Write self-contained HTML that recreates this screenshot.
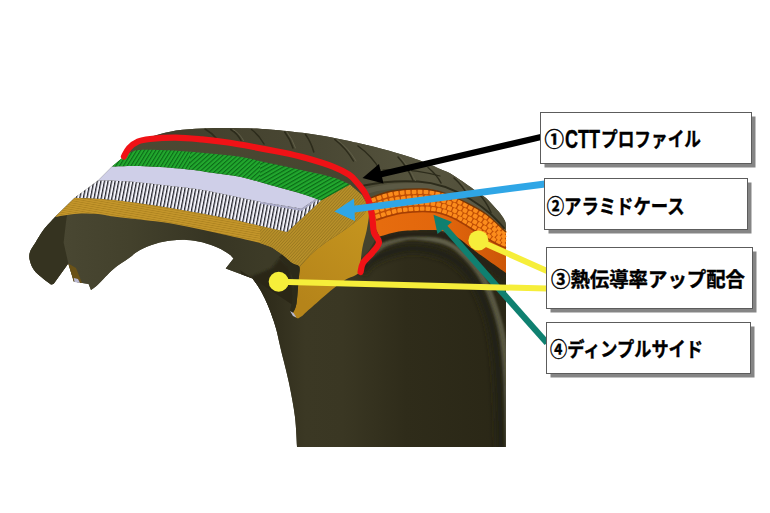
<!DOCTYPE html>
<html lang="ja">
<head>
<meta charset="utf-8">
<title>タイヤ構造図</title>
<style>
html,body{margin:0;padding:0;background:#fff;}
body{width:770px;height:513px;overflow:hidden;position:relative;font-family:"Liberation Sans","Noto Sans CJK JP",sans-serif;}
svg{position:absolute;left:0;top:0;display:block;}
.lbl{font-family:"Liberation Sans","Noto Sans CJK JP",sans-serif;font-weight:bold;font-size:20px;fill:#000;stroke:#000;stroke-width:0.4px;}
</style>
</head>
<body>
<svg width="770" height="513" viewBox="0 0 770 513">
<defs>
  <linearGradient id="gTire" gradientUnits="userSpaceOnUse" x1="100" y1="130" x2="500" y2="450">
    <stop offset="0" stop-color="#4d4a34"/>
    <stop offset="0.45" stop-color="#46442f"/>
    <stop offset="1" stop-color="#3a3824"/>
  </linearGradient>
  <linearGradient id="gInner" gradientUnits="userSpaceOnUse" x1="255" y1="0" x2="506" y2="0">
    <stop offset="0" stop-color="#2b2818"/>
    <stop offset="0.2" stop-color="#3b3824"/>
    <stop offset="0.35" stop-color="#3a3723"/>
    <stop offset="0.6" stop-color="#2f2c1a"/>
    <stop offset="1" stop-color="#2a2716"/>
  </linearGradient>
  <filter id="blur1" x="-20%" y="-20%" width="140%" height="140%"><feGaussianBlur stdDeviation="1.2"/></filter>
  <filter id="blur2" x="-20%" y="-20%" width="140%" height="140%"><feGaussianBlur stdDeviation="2.2"/></filter>
  <filter id="blur3" x="-20%" y="-20%" width="140%" height="140%"><feGaussianBlur stdDeviation="3"/></filter>
  <pattern id="pGreenA" width="8" height="3.2" patternUnits="userSpaceOnUse" patternTransform="rotate(-58)">
    <rect width="8" height="3.2" fill="#22a82e"/><rect width="8" height="1.1" fill="#0b6a17"/>
  </pattern>
  <pattern id="pGreenB" width="8" height="3.3" patternUnits="userSpaceOnUse" patternTransform="rotate(-42)">
    <rect width="8" height="3.3" fill="#22a82e"/><rect width="8" height="1.1" fill="#0b6a17"/>
  </pattern>
  <pattern id="pGreenC" width="8" height="3.4" patternUnits="userSpaceOnUse" patternTransform="rotate(-30)">
    <rect width="8" height="3.4" fill="#22a82e"/><rect width="8" height="1.2" fill="#0b6a17"/>
  </pattern>
  <pattern id="pHatch" width="3.5" height="8" patternUnits="userSpaceOnUse" patternTransform="rotate(11)">
    <rect width="3.5" height="8" fill="#f4f4fb"/><rect width="1.3" height="8" fill="#22222a"/>
  </pattern>
  <pattern id="pGold" width="6" height="2.2" patternUnits="userSpaceOnUse" patternTransform="rotate(10)">
    <rect width="6" height="2.2" fill="#c4962b"/><rect width="6" height="0.8" fill="#ad8320"/>
  </pattern>
  <pattern id="pGold2" width="6" height="2.2" patternUnits="userSpaceOnUse" patternTransform="rotate(-48)">
    <rect width="6" height="2.2" fill="#b89029"/><rect width="6" height="0.8" fill="#9a7820"/>
  </pattern>
  <linearGradient id="gGoldS" gradientUnits="userSpaceOnUse" x1="300" y1="300" x2="370" y2="210">
    <stop offset="0" stop-color="#b5841a"/>
    <stop offset="1" stop-color="#c6961f"/>
  </linearGradient>
  <linearGradient id="gTread" gradientUnits="userSpaceOnUse" x1="150" y1="0" x2="500" y2="0">
    <stop offset="0" stop-color="#403e2b"/>
    <stop offset="0.5" stop-color="#4a4834"/>
    <stop offset="0.8" stop-color="#57553f"/>
    <stop offset="1" stop-color="#4e4c37"/>
  </linearGradient>
  <linearGradient id="gOr" gradientUnits="userSpaceOnUse" x1="380" y1="0" x2="506" y2="0">
    <stop offset="0" stop-color="#e66c0e"/>
    <stop offset="0.5" stop-color="#e2660c"/>
    <stop offset="1" stop-color="#cc5608"/>
  </linearGradient>
  <linearGradient id="gLiner" gradientUnits="userSpaceOnUse" x1="40" y1="0" x2="266" y2="0">
    <stop offset="0" stop-color="#4b4934"/>
    <stop offset="0.4" stop-color="#43412c"/>
    <stop offset="0.75" stop-color="#373523"/>
    <stop offset="1" stop-color="#3d3b27"/>
  </linearGradient>
  <clipPath id="cGreen"><path d="M124.0,156.5 C125.2,155.8 128.5,153.4 131.0,152.3 C133.5,151.2 134.2,150.4 139.0,150.0 C143.8,149.6 153.2,149.8 160.0,150.0 C166.8,150.2 171.7,150.4 180.0,151.0 C188.3,151.6 200.0,152.5 210.0,153.5 C220.0,154.5 229.8,155.1 240.0,156.8 C250.2,158.5 260.6,161.3 271.0,163.5 C281.4,165.7 291.9,167.9 302.3,170.2 C312.7,172.5 325.6,175.1 333.5,177.5 C341.4,179.9 347.2,183.3 349.9,184.5 L321.0,200.5 L321.0,200.5 C317.9,199.4 310.6,196.4 302.3,193.9 C294.0,191.4 281.4,188.2 271.0,185.3 C260.6,182.5 250.2,178.9 240.0,176.8 C229.8,174.7 220.0,173.9 210.0,172.5 C200.0,171.1 191.7,169.7 180.0,168.6 C168.3,167.5 151.3,166.3 140.0,166.0 C128.7,165.7 116.7,166.4 112.0,166.5 L124.0,156.5 Z"/></clipPath>
  <clipPath id="cBody"><path d="M124.0,156.5 C124.8,154.9 126.7,149.7 129.0,147.0 C131.3,144.3 134.5,142.2 138.0,140.5 C141.5,138.8 148.0,137.6 150.0,137.0 L150.0,137.0 C154.3,135.9 167.3,132.0 176.0,130.6 C184.7,129.2 193.3,128.9 202.0,128.5 C210.7,128.1 219.3,128.0 228.0,128.0 C236.7,128.0 246.0,128.2 254.0,128.5 C262.0,128.8 267.3,129.2 276.0,130.0 C284.7,130.8 296.7,132.1 306.0,133.3 C315.3,134.6 323.0,135.8 332.0,137.5 C341.0,139.2 352.8,141.9 360.0,143.5 C367.2,145.1 369.3,145.6 375.0,147.0 C380.7,148.4 387.7,150.4 394.0,152.2 C400.3,154.0 406.7,155.8 413.0,158.0 C419.3,160.2 427.5,163.7 432.0,165.5 C436.5,167.3 437.0,167.7 440.0,169.0 C443.0,170.3 446.8,171.5 450.0,173.3 C453.2,175.1 456.3,177.5 459.5,179.6 C462.7,181.7 466.2,184.1 469.0,186.0 C471.8,187.9 473.2,189.0 476.0,191.0 C478.8,193.0 483.1,195.5 486.0,198.0 C488.9,200.5 491.2,203.4 493.6,206.0 C496.0,208.6 498.5,211.2 500.4,213.7 C502.3,216.2 504.1,218.9 505.0,221.0 C505.9,223.1 505.8,225.2 506.0,226.0 L506.0,447.0 L297.0,447.0 L297.0,447.0 C296.7,442.0 296.3,427.7 295.0,417.0 C293.7,406.3 291.3,394.2 289.0,383.0 C286.7,371.8 283.2,359.3 281.0,350.0 C278.8,340.7 277.6,334.0 275.6,327.0 C273.6,320.0 271.4,314.0 269.0,308.0 C266.6,302.0 263.7,295.9 261.0,291.0 C258.3,286.1 254.0,280.6 252.6,278.5 L225.7,268.5 L233.5,258.6 L233.5,258.6 C232.7,257.8 231.4,255.7 228.8,253.9 C226.2,252.1 222.4,249.6 218.0,247.7 C213.6,245.8 207.5,243.5 202.3,242.2 C197.1,240.9 192.0,240.2 186.8,239.9 C181.6,239.6 176.4,239.9 171.2,240.6 C166.0,241.2 160.8,242.2 155.6,243.8 C150.4,245.4 144.4,247.6 140.0,250.0 C135.6,252.4 133.4,254.8 129.0,258.0 C124.6,261.2 118.7,264.6 113.5,269.0 C108.3,273.4 101.8,281.0 98.0,284.5 C94.2,288.0 92.2,289.1 91.0,290.0 L88.6,284.0 L82.3,283.0 L73.8,281.4 L68.3,263.5 L53.5,284.0 L51.0,284.5 L51.0,284.5 C48.4,282.4 39.1,275.9 35.6,272.0 C32.1,268.1 30.9,264.3 30.0,261.0 C29.1,257.7 29.1,255.1 30.0,252.0 C30.9,248.9 33.4,246.2 35.6,242.5 C37.8,238.8 40.2,234.2 43.4,230.0 C46.6,225.8 53.1,219.2 55.0,217.0 L74.5,198.0 L98.0,180.5 L112.0,166.5 Z"/></clipPath>
</defs>

<rect width="770" height="513" fill="#ffffff"/>

<!-- tire body -->
<path fill="url(#gTire)" d="M124.0,156.5 C124.8,154.9 126.7,149.7 129.0,147.0 C131.3,144.3 134.5,142.2 138.0,140.5 C141.5,138.8 148.0,137.6 150.0,137.0 L150.0,137.0 C154.3,135.9 167.3,132.0 176.0,130.6 C184.7,129.2 193.3,128.9 202.0,128.5 C210.7,128.1 219.3,128.0 228.0,128.0 C236.7,128.0 246.0,128.2 254.0,128.5 C262.0,128.8 267.3,129.2 276.0,130.0 C284.7,130.8 296.7,132.1 306.0,133.3 C315.3,134.6 323.0,135.8 332.0,137.5 C341.0,139.2 352.8,141.9 360.0,143.5 C367.2,145.1 369.3,145.6 375.0,147.0 C380.7,148.4 387.7,150.4 394.0,152.2 C400.3,154.0 406.7,155.8 413.0,158.0 C419.3,160.2 427.5,163.7 432.0,165.5 C436.5,167.3 437.0,167.7 440.0,169.0 C443.0,170.3 446.8,171.5 450.0,173.3 C453.2,175.1 456.3,177.5 459.5,179.6 C462.7,181.7 466.2,184.1 469.0,186.0 C471.8,187.9 473.2,189.0 476.0,191.0 C478.8,193.0 483.1,195.5 486.0,198.0 C488.9,200.5 491.2,203.4 493.6,206.0 C496.0,208.6 498.5,211.2 500.4,213.7 C502.3,216.2 504.1,218.9 505.0,221.0 C505.9,223.1 505.8,225.2 506.0,226.0 L506.0,447.0 L297.0,447.0 L297.0,447.0 C296.7,442.0 296.3,427.7 295.0,417.0 C293.7,406.3 291.3,394.2 289.0,383.0 C286.7,371.8 283.2,359.3 281.0,350.0 C278.8,340.7 277.6,334.0 275.6,327.0 C273.6,320.0 271.4,314.0 269.0,308.0 C266.6,302.0 263.7,295.9 261.0,291.0 C258.3,286.1 254.0,280.6 252.6,278.5 L225.7,268.5 L233.5,258.6 L233.5,258.6 C232.7,257.8 231.4,255.7 228.8,253.9 C226.2,252.1 222.4,249.6 218.0,247.7 C213.6,245.8 207.5,243.5 202.3,242.2 C197.1,240.9 192.0,240.2 186.8,239.9 C181.6,239.6 176.4,239.9 171.2,240.6 C166.0,241.2 160.8,242.2 155.6,243.8 C150.4,245.4 144.4,247.6 140.0,250.0 C135.6,252.4 133.4,254.8 129.0,258.0 C124.6,261.2 118.7,264.6 113.5,269.0 C108.3,273.4 101.8,281.0 98.0,284.5 C94.2,288.0 92.2,289.1 91.0,290.0 L88.6,284.0 L82.3,283.0 L73.8,281.4 L68.3,263.5 L53.5,284.0 L51.0,284.5 L51.0,284.5 C48.4,282.4 39.1,275.9 35.6,272.0 C32.1,268.1 30.9,264.3 30.0,261.0 C29.1,257.7 29.1,255.1 30.0,252.0 C30.9,248.9 33.4,246.2 35.6,242.5 C37.8,238.8 40.2,234.2 43.4,230.0 C46.6,225.8 53.1,219.2 55.0,217.0 L74.5,198.0 L98.0,180.5 L112.0,166.5 Z"/>
<g clip-path="url(#cBody)">
  <rect x="20" y="195" width="285" height="125" fill="url(#gLiner)"/>
  <path fill="#2a2818" filter="url(#blur1)" d="M250,277 L262,292 L269,308 L276,330 L296,318 L294,290 L290,268 L280,258 L272,268 Z"/>
  <!-- left cut face -->
  <path fill="#353320" d="M55,217 L43,230 L35,242 L29,252 L29,262 L35,273 L51,286 L54,285 L68.3,263.5 L63.6,242.5 L66,222 L67,215 Z"/>
  <!-- lower sidewall shading -->
  <path fill="url(#gInner)" d="M240,270 L300,310 L362,262 L380,232 L420,226 L470,240 L506,255 L506,447 L297,447 Z"/>
  <path fill="none" stroke="#605e48" stroke-width="6.5" filter="url(#blur1)" d="M366.0,262.0 C368.6,259.3 376.8,249.7 381.6,246.0 C386.4,242.3 389.5,241.6 395.0,240.0 C400.5,238.4 405.7,236.0 414.4,236.4 C423.1,236.8 438.6,239.2 447.0,242.4 C455.4,245.6 459.0,249.6 465.0,255.8 C471.0,262.0 478.0,270.7 483.0,279.7 C488.0,288.7 491.8,299.6 495.0,309.6 C498.2,319.6 500.7,326.9 502.5,339.5 C504.3,352.1 505.1,366.6 506.0,385.0 C506.9,403.4 507.7,439.2 508.0,450.0"/>
  <path fill="none" stroke="#262414" stroke-width="6" filter="url(#blur1)" d="M378.0,240.5 C381.8,239.6 391.5,236.1 400.5,235.0 C409.5,233.9 424.7,233.8 432.0,234.0 C439.3,234.2 440.2,234.6 444.5,236.0 C448.8,237.4 453.3,239.8 457.5,242.5 C461.7,245.2 464.5,248.2 469.5,252.0 C474.5,255.8 481.7,260.8 487.5,265.0 C493.3,269.2 501.7,275.0 504.5,277.0"/>
  <path fill="none" stroke="#242213" stroke-width="9" filter="url(#blur3)" d="M362.0,272.0 C363.3,270.3 364.4,265.4 369.6,262.0 C374.9,258.6 385.5,253.7 393.5,251.4 C401.5,249.1 408.5,247.7 417.4,248.4 C426.3,249.1 438.1,251.1 447.0,255.8 C455.9,260.5 464.0,266.7 471.0,276.7 C478.0,286.7 484.8,302.7 489.0,315.6 C493.2,328.6 494.8,340.3 496.5,354.4 C498.2,368.5 498.8,383.7 499.5,400.0 C500.2,416.3 500.8,443.3 501.0,452.0"/>
  <!-- tread grooves -->
  <path fill="url(#gTread)" d="M124.0,156.5 C124.8,155.1 126.7,150.5 129.0,148.0 C131.3,145.5 134.5,143.0 138.0,141.5 C141.5,140.0 143.7,139.7 150.0,139.0 C156.3,138.3 167.3,137.5 176.0,137.6 C184.7,137.7 193.3,138.6 202.0,139.4 C210.7,140.2 219.3,141.2 228.0,142.5 C236.7,143.8 245.3,145.4 254.0,147.0 C262.7,148.6 271.3,150.2 280.0,152.0 C288.7,153.8 297.1,155.5 306.0,158.0 C314.9,160.5 326.3,164.0 333.5,166.8 C340.7,169.6 345.1,172.0 349.0,174.6 C352.9,177.2 354.3,179.4 357.0,182.5 C359.7,185.6 363.7,191.2 365.0,193.0 L370.0,198.0 C373.7,196.8 383.2,192.5 392.0,191.0 C400.8,189.5 414.3,188.7 423.0,189.0 C431.7,189.3 437.0,190.8 444.0,193.0 C451.0,195.2 458.0,198.5 465.0,202.0 C472.0,205.5 479.2,209.0 486.0,214.0 C492.8,219.0 502.7,229.0 506.0,232.0 L520.0,232.0 L520.0,100.0 L110.0,100.0 L110.0,157.0 Z"/>
  <path fill="none" stroke="#5c5a45" stroke-width="5" d="M366,191.5 C380,187 400,185 420,185.5 S452,191.5 470,202.5 S495,221 505,233"/>
  <g stroke="#2c2b1b" stroke-width="1.5" fill="none" stroke-linecap="round">
    <path d="M205,129 Q212,133 217,139"/>
    <path d="M230.7,129.5 Q237,133 241,140.5"/>
    <path d="M251.5,129.5 Q259,135 264,144"/>
    <path d="M284.7,132 Q290,139 293,148"/>
    <path d="M305.5,134.5 Q311,142 313.8,152"/>
    <path d="M334.7,139.5 Q346,148 353.4,161"/>
    <path d="M358,146 Q372,156 380,170"/>
    <path d="M398,157 Q408,168 413,180.5"/>
    <path d="M428,167.5 Q437,175 441,183"/>
    <path d="M454,178 Q463,186 468,196"/>
    <path d="M478,193 Q486,201 491,212.5"/>
    <path d="M383,170 Q410,168 440,176" stroke-width="1.2"/>
    <path d="M364,185.5 C380,182 400,180.5 418,181.5 S452,188 470,199 S495,218 504,228" stroke-width="2"/>
  </g>
  <g stroke="#605e48" stroke-width="1" fill="none" stroke-linecap="round">
    <path d="M233,129.5 Q239.5,133 243.5,140.5"/>
    <path d="M287,132 Q292.5,139 295.5,148"/>
    <path d="M337,139.5 Q348.5,148 356,161"/>
    <path d="M400.5,157 Q410.5,168 415.5,180.5"/>
    <path d="M456.5,178 Q465.5,186 470.5,196"/>
  </g>
</g>

<!-- cross-section layers -->
<path fill="url(#pGold)" d="M74.5,198.0 C79.3,198.2 92.6,198.1 103.5,199.0 C114.4,199.9 128.7,201.7 140.0,203.2 C151.3,204.7 160.8,206.2 171.2,207.9 C181.6,209.6 191.9,211.5 202.3,213.4 C212.7,215.3 223.9,217.5 233.5,219.6 C243.1,221.7 251.1,223.7 260.0,225.8 C268.9,227.9 282.5,231.0 287.0,232.0 L282.0,254.4 C280.3,253.2 275.7,249.4 272.0,247.5 C268.3,245.6 266.4,244.8 260.0,243.0 C253.6,241.2 243.1,239.0 233.5,236.8 C223.9,234.6 212.7,231.9 202.3,229.7 C191.9,227.5 181.6,225.2 171.2,223.5 C160.8,221.8 149.6,220.8 140.0,219.6 C130.4,218.4 120.5,217.4 113.5,216.5 C106.5,215.6 103.2,214.5 98.0,214.0 C92.8,213.5 87.2,213.3 82.0,213.5 C76.8,213.7 71.5,214.4 67.0,215.0 C62.5,215.6 57.0,216.7 55.0,217.0 L74.5,198.0 Z"/>
<path fill="url(#pGold2)" d="M287.0,232.0 L321.0,200.5 L349.9,184.5 L362.0,195.0 L368.5,206.0 L368.5,206.0 C367.8,207.3 366.4,211.2 364.0,214.0 C361.6,216.8 357.8,219.9 354.0,223.0 C350.2,226.1 345.8,229.2 341.0,232.5 C336.2,235.8 329.9,239.4 325.0,243.0 C320.1,246.6 315.8,250.0 311.5,254.0 C307.2,258.0 301.5,264.8 299.5,267.0 L299.5,267.0 C298.2,266.3 294.9,265.1 292.0,263.0 C289.1,260.9 283.7,255.8 282.0,254.4 L272.0,247.5 L260.0,243.0 L260.0,225.8 Z"/>
<path fill="url(#gGoldS)" d="M368.5,206.0 C367.8,207.3 366.4,211.2 364.0,214.0 C361.6,216.8 357.8,219.9 354.0,223.0 C350.2,226.1 345.8,229.2 341.0,232.5 C336.2,235.8 329.9,239.4 325.0,243.0 C320.1,246.6 315.8,250.0 311.5,254.0 C307.2,258.0 301.5,264.8 299.5,267.0 L299.5,267.0 C299.3,269.3 299.0,274.9 298.5,281.0 C298.0,287.1 297.4,298.2 296.5,303.5 C295.6,308.8 293.6,311.4 293.0,313.0 L295.0,317.0 L298.0,318.5 L302.5,315.8 L302.5,315.8 C303.5,314.8 306.0,312.1 308.4,310.0 C310.8,307.9 313.7,305.4 316.6,302.9 C319.5,300.3 322.9,297.3 326.0,294.7 C329.1,292.1 332.0,289.6 335.3,287.1 C338.6,284.6 342.5,281.4 345.8,279.5 C349.1,277.6 352.6,276.6 355.0,275.4 C357.4,274.1 359.2,272.6 360.0,272.0 L360.0,268.0 C360.4,264.6 361.3,254.0 362.4,247.8 C363.5,241.6 365.5,236.3 366.6,230.8 C367.7,225.3 368.7,219.1 369.0,215.0 C369.3,210.9 368.6,207.5 368.5,206.0 Z"/>
<path fill="#2c2a19" d="M282.0,254.4 C283.7,255.8 289.1,260.9 292.0,263.0 C294.9,265.1 298.4,264.0 299.5,267.0 C300.6,270.0 299.0,274.9 298.5,281.0 C298.0,287.1 297.4,298.2 296.5,303.5 C295.6,308.8 293.6,311.4 293.0,313.0 L290.0,311.0 L290.0,311.0 C290.5,308.3 292.5,300.2 293.0,295.0 C293.5,289.8 293.8,284.5 293.0,280.0 C292.2,275.5 290.3,271.8 288.0,268.0 C285.7,264.2 280.5,258.8 279.0,257.0 Z"/>
<path fill="#b9b9d2" d="M290,311 L293.5,313 L296.5,317.5 L293,316 Z"/>
<path fill="url(#pHatch)" d="M98.0,180.5 C103.3,180.7 116.3,180.4 130.0,181.5 C143.7,182.6 167.9,185.6 180.0,187.0 C192.1,188.4 193.4,188.5 202.3,190.0 C211.2,191.5 223.9,194.2 233.5,196.2 C243.1,198.1 252.2,200.2 260.0,201.7 C267.8,203.2 273.1,203.8 280.0,205.0 C286.9,206.2 297.9,208.1 301.5,208.7 L316.4,198.6 L321.0,200.5 L287.0,232.0 L287.0,232.0 C282.5,231.0 268.9,227.9 260.0,225.8 C251.1,223.7 243.1,221.7 233.5,219.6 C223.9,217.5 212.7,215.3 202.3,213.4 C191.9,211.5 181.6,209.6 171.2,207.9 C160.8,206.2 151.3,204.7 140.0,203.2 C128.7,201.7 114.4,199.9 103.5,199.0 C92.6,198.1 79.3,198.2 74.5,198.0 L98.0,180.5 Z"/>
<path fill="#cfcfe8" d="M112.0,166.5 C116.7,166.4 128.7,165.7 140.0,166.0 C151.3,166.3 168.3,167.5 180.0,168.6 C191.7,169.7 200.0,171.1 210.0,172.5 C220.0,173.9 229.8,174.7 240.0,176.8 C250.2,178.9 260.6,182.5 271.0,185.3 C281.4,188.2 294.7,191.7 302.3,193.9 C309.9,196.1 314.0,197.8 316.4,198.6 L301.5,208.7 L301.5,208.7 C297.9,208.1 286.9,206.2 280.0,205.0 C273.1,203.8 267.8,203.2 260.0,201.7 C252.2,200.2 243.1,198.1 233.5,196.2 C223.9,194.2 211.2,191.5 202.3,190.0 C193.4,188.5 192.1,188.4 180.0,187.0 C167.9,185.6 143.7,182.6 130.0,181.5 C116.3,180.4 103.3,180.7 98.0,180.5 L112.0,166.5 Z"/>
<path fill="#a9a9c6" d="M316.4,198.6 L301.5,208.7 L260,201.7 L260,203.6 L301.5,211 L318,199.6 Z"/>
<g clip-path="url(#cGreen)">
  <rect x="100" y="140" width="90" height="70" fill="url(#pGreenA)"/>
  <rect x="190" y="140" width="70" height="70" fill="url(#pGreenB)"/>
  <rect x="260" y="140" width="100" height="70" fill="url(#pGreenC)"/>
</g>
<!-- left bead tip -->
<path fill="#6a5217" d="M68.3,263.5 L73.8,281.4 L82,283 L76,268 Z"/>
<path fill="#b9b9d2" d="M73.8,278 L78,279 L80,283 L74.5,282 Z"/>

<!-- orange dimple side -->
<path fill="url(#gOr)" d="M370.0,198.0 C373.7,196.8 383.2,192.5 392.0,191.0 C400.8,189.5 414.3,188.7 423.0,189.0 C431.7,189.3 437.0,190.8 444.0,193.0 C451.0,195.2 458.0,198.5 465.0,202.0 C472.0,205.5 479.2,209.0 486.0,214.0 C492.8,219.0 502.7,229.0 506.0,232.0 L506.0,273.0 L506.0,273.0 C503.2,271.0 494.8,265.2 489.0,261.0 C483.2,256.8 476.0,251.8 471.0,248.0 C466.0,244.2 463.2,241.2 459.0,238.5 C454.8,235.8 450.2,233.4 446.0,232.0 C441.8,230.6 440.8,230.2 433.5,230.0 C426.2,229.8 411.0,229.9 402.0,231.0 C393.0,232.1 383.2,235.6 379.5,236.5 L374.0,225.0 L370.0,198.0 Z"/>
<path fill="#c04e05" d="M370.0,198.0 C373.7,196.8 383.2,192.5 392.0,191.0 C400.8,189.5 414.3,188.7 423.0,189.0 C431.7,189.3 437.0,190.8 444.0,193.0 C451.0,195.2 458.0,198.5 465.0,202.0 C472.0,205.5 479.2,209.0 486.0,214.0 C492.8,219.0 502.7,229.0 506.0,232.0 L506.0,248.0 L506.0,248.0 C504.3,247.2 501.2,246.3 496.0,243.5 C490.8,240.7 482.0,235.2 475.0,231.0 C468.0,226.8 460.9,221.7 454.0,218.5 C447.1,215.3 442.2,212.9 433.5,212.0 C424.8,211.1 411.6,211.7 402.0,213.0 C392.4,214.3 380.3,218.8 376.0,220.0 L370.0,198.0 Z"/>
<g fill="#fb8c1c">
<rect x="-2.3" y="-2.2" width="4.6" height="4.4" rx="1.2" transform="translate(373.5,199.8) rotate(-21)"/>
<rect x="-2.3" y="-2.2" width="4.6" height="4.4" rx="1.2" transform="translate(375.0,205.3) rotate(-21)"/>
<rect x="-2.3" y="-2.2" width="4.6" height="4.4" rx="1.2" transform="translate(376.5,210.9) rotate(-21)"/>
<rect x="-2.3" y="-2.2" width="4.6" height="4.4" rx="1.2" transform="translate(377.9,216.4) rotate(-21)"/>
<rect x="-2.3" y="-2.2" width="4.6" height="4.4" rx="1.2" transform="translate(379.1,197.7) rotate(-20)"/>
<rect x="-2.3" y="-2.2" width="4.6" height="4.4" rx="1.2" transform="translate(380.5,203.3) rotate(-20)"/>
<rect x="-2.3" y="-2.2" width="4.6" height="4.4" rx="1.2" transform="translate(381.9,209.0) rotate(-20)"/>
<rect x="-2.3" y="-2.2" width="4.6" height="4.4" rx="1.2" transform="translate(383.3,214.7) rotate(-20)"/>
<rect x="-2.3" y="-2.2" width="4.6" height="4.4" rx="1.2" transform="translate(384.7,195.8) rotate(-17)"/>
<rect x="-2.3" y="-2.2" width="4.6" height="4.4" rx="1.2" transform="translate(386.1,201.5) rotate(-17)"/>
<rect x="-2.3" y="-2.2" width="4.6" height="4.4" rx="1.2" transform="translate(387.4,207.3) rotate(-17)"/>
<rect x="-2.3" y="-2.2" width="4.6" height="4.4" rx="1.2" transform="translate(388.7,213.0) rotate(-17)"/>
<rect x="-2.3" y="-2.2" width="4.6" height="4.4" rx="1.2" transform="translate(390.5,194.3) rotate(-12)"/>
<rect x="-2.3" y="-2.2" width="4.6" height="4.4" rx="1.2" transform="translate(391.7,200.0) rotate(-12)"/>
<rect x="-2.3" y="-2.2" width="4.6" height="4.4" rx="1.2" transform="translate(392.9,205.8) rotate(-12)"/>
<rect x="-2.3" y="-2.2" width="4.6" height="4.4" rx="1.2" transform="translate(394.2,211.5) rotate(-12)"/>
<rect x="-2.3" y="-2.2" width="4.6" height="4.4" rx="1.2" transform="translate(396.3,193.3) rotate(-8)"/>
<rect x="-2.3" y="-2.2" width="4.6" height="4.4" rx="1.2" transform="translate(397.5,199.0) rotate(-8)"/>
<rect x="-2.3" y="-2.2" width="4.6" height="4.4" rx="1.2" transform="translate(398.6,204.7) rotate(-8)"/>
<rect x="-2.3" y="-2.2" width="4.6" height="4.4" rx="1.2" transform="translate(399.7,210.4) rotate(-8)"/>
<rect x="-2.3" y="-2.2" width="4.6" height="4.4" rx="1.2" transform="translate(402.2,192.6) rotate(-5)"/>
<rect x="-2.3" y="-2.2" width="4.6" height="4.4" rx="1.2" transform="translate(403.3,198.3) rotate(-5)"/>
<rect x="-2.3" y="-2.2" width="4.6" height="4.4" rx="1.2" transform="translate(404.3,204.0) rotate(-5)"/>
<rect x="-2.3" y="-2.2" width="4.6" height="4.4" rx="1.2" transform="translate(405.3,209.7) rotate(-5)"/>
<rect x="-2.3" y="-2.2" width="4.6" height="4.4" rx="1.2" transform="translate(408.2,192.1) rotate(-4)"/>
<rect x="-2.3" y="-2.2" width="4.6" height="4.4" rx="1.2" transform="translate(409.1,197.8) rotate(-4)"/>
<rect x="-2.3" y="-2.2" width="4.6" height="4.4" rx="1.2" transform="translate(410.0,203.5) rotate(-4)"/>
<rect x="-2.3" y="-2.2" width="4.6" height="4.4" rx="1.2" transform="translate(410.9,209.2) rotate(-4)"/>
<rect x="-2.3" y="-2.2" width="4.6" height="4.4" rx="1.2" transform="translate(414.1,191.9) rotate(-2)"/>
<rect x="-2.3" y="-2.2" width="4.6" height="4.4" rx="1.2" transform="translate(414.9,197.5) rotate(-2)"/>
<rect x="-2.3" y="-2.2" width="4.6" height="4.4" rx="1.2" transform="translate(415.8,203.2) rotate(-2)"/>
<rect x="-2.3" y="-2.2" width="4.6" height="4.4" rx="1.2" transform="translate(416.6,208.9) rotate(-2)"/>
<rect x="-2.3" y="-2.2" width="4.6" height="4.4" rx="1.2" transform="translate(420.0,191.8) rotate(0)"/>
<rect x="-2.3" y="-2.2" width="4.6" height="4.4" rx="1.2" transform="translate(420.8,197.4) rotate(0)"/>
<rect x="-2.3" y="-2.2" width="4.6" height="4.4" rx="1.2" transform="translate(421.5,203.1) rotate(0)"/>
<rect x="-2.3" y="-2.2" width="4.6" height="4.4" rx="1.2" transform="translate(422.2,208.7) rotate(0)"/>
<rect x="-2.3" y="-2.2" width="4.6" height="4.4" rx="1.2" transform="translate(426.0,192.0) rotate(4)"/>
<rect x="-2.3" y="-2.2" width="4.6" height="4.4" rx="1.2" transform="translate(426.6,197.6) rotate(4)"/>
<rect x="-2.3" y="-2.2" width="4.6" height="4.4" rx="1.2" transform="translate(427.2,203.2) rotate(4)"/>
<rect x="-2.3" y="-2.2" width="4.6" height="4.4" rx="1.2" transform="translate(427.9,208.8) rotate(4)"/>
<rect x="-2.3" y="-2.2" width="4.6" height="4.4" rx="1.2" transform="translate(431.9,192.6) rotate(9)"/>
<rect x="-2.3" y="-2.2" width="4.6" height="4.4" rx="1.2" transform="translate(432.4,198.2) rotate(9)"/>
<rect x="-2.3" y="-2.2" width="4.6" height="4.4" rx="1.2" transform="translate(433.0,203.7) rotate(9)"/>
<rect x="-2.3" y="-2.2" width="4.6" height="4.4" rx="1.2" transform="translate(433.5,209.3) rotate(9)"/>
<rect x="-2.3" y="-2.2" width="4.6" height="4.4" rx="1.2" transform="translate(437.7,193.8) rotate(15)"/>
<rect x="-2.3" y="-2.2" width="4.6" height="4.4" rx="1.2" transform="translate(438.1,199.3) rotate(15)"/>
<rect x="-2.3" y="-2.2" width="4.6" height="4.4" rx="1.2" transform="translate(438.6,204.7) rotate(15)"/>
<rect x="-2.3" y="-2.2" width="4.6" height="4.4" rx="1.2" transform="translate(439.1,210.2) rotate(15)"/>
<rect x="-2.3" y="-2.2" width="4.6" height="4.4" rx="1.2" transform="translate(443.4,195.5) rotate(17)"/>
<rect x="-2.3" y="-2.2" width="4.6" height="4.4" rx="1.2" transform="translate(443.8,200.9) rotate(17)"/>
<rect x="-2.3" y="-2.2" width="4.6" height="4.4" rx="1.2" transform="translate(444.1,206.3) rotate(17)"/>
<rect x="-2.3" y="-2.2" width="4.6" height="4.4" rx="1.2" transform="translate(444.5,211.8) rotate(17)"/>
<rect x="-2.3" y="-2.2" width="4.6" height="4.4" rx="1.2" transform="translate(449.0,197.4) rotate(21)"/>
<rect x="-2.3" y="-2.2" width="4.6" height="4.4" rx="1.2" transform="translate(449.2,202.9) rotate(21)"/>
<rect x="-2.3" y="-2.2" width="4.6" height="4.4" rx="1.2" transform="translate(449.5,208.4) rotate(21)"/>
<rect x="-2.3" y="-2.2" width="4.6" height="4.4" rx="1.2" transform="translate(449.7,213.9) rotate(21)"/>
<rect x="-2.3" y="-2.2" width="4.6" height="4.4" rx="1.2" transform="translate(454.5,199.7) rotate(24)"/>
<rect x="-2.3" y="-2.2" width="4.6" height="4.4" rx="1.2" transform="translate(454.6,205.2) rotate(24)"/>
<rect x="-2.3" y="-2.2" width="4.6" height="4.4" rx="1.2" transform="translate(454.8,210.7) rotate(24)"/>
<rect x="-2.3" y="-2.2" width="4.6" height="4.4" rx="1.2" transform="translate(454.9,216.2) rotate(24)"/>
<rect x="-2.3" y="-2.2" width="4.6" height="4.4" rx="1.2" transform="translate(459.9,202.2) rotate(26)"/>
<rect x="-2.3" y="-2.2" width="4.6" height="4.4" rx="1.2" transform="translate(459.9,207.8) rotate(26)"/>
<rect x="-2.3" y="-2.2" width="4.6" height="4.4" rx="1.2" transform="translate(459.9,213.3) rotate(26)"/>
<rect x="-2.3" y="-2.2" width="4.6" height="4.4" rx="1.2" transform="translate(459.9,218.8) rotate(26)"/>
<rect x="-2.3" y="-2.2" width="4.6" height="4.4" rx="1.2" transform="translate(465.2,204.9) rotate(27)"/>
<rect x="-2.3" y="-2.2" width="4.6" height="4.4" rx="1.2" transform="translate(465.0,210.5) rotate(27)"/>
<rect x="-2.3" y="-2.2" width="4.6" height="4.4" rx="1.2" transform="translate(464.9,216.1) rotate(27)"/>
<rect x="-2.3" y="-2.2" width="4.6" height="4.4" rx="1.2" transform="translate(464.7,221.7) rotate(27)"/>
<rect x="-2.3" y="-2.2" width="4.6" height="4.4" rx="1.2" transform="translate(470.4,207.6) rotate(27)"/>
<rect x="-2.3" y="-2.2" width="4.6" height="4.4" rx="1.2" transform="translate(470.1,213.3) rotate(27)"/>
<rect x="-2.3" y="-2.2" width="4.6" height="4.4" rx="1.2" transform="translate(469.8,219.0) rotate(27)"/>
<rect x="-2.3" y="-2.2" width="4.6" height="4.4" rx="1.2" transform="translate(469.5,224.7) rotate(27)"/>
<rect x="-2.3" y="-2.2" width="4.6" height="4.4" rx="1.2" transform="translate(475.6,210.5) rotate(29)"/>
<rect x="-2.3" y="-2.2" width="4.6" height="4.4" rx="1.2" transform="translate(475.2,216.2) rotate(29)"/>
<rect x="-2.3" y="-2.2" width="4.6" height="4.4" rx="1.2" transform="translate(474.8,221.9) rotate(29)"/>
<rect x="-2.3" y="-2.2" width="4.6" height="4.4" rx="1.2" transform="translate(474.4,227.6) rotate(29)"/>
<rect x="-2.3" y="-2.2" width="4.6" height="4.4" rx="1.2" transform="translate(480.8,213.5) rotate(32)"/>
<rect x="-2.3" y="-2.2" width="4.6" height="4.4" rx="1.2" transform="translate(480.2,219.2) rotate(32)"/>
<rect x="-2.3" y="-2.2" width="4.6" height="4.4" rx="1.2" transform="translate(479.7,224.8) rotate(32)"/>
<rect x="-2.3" y="-2.2" width="4.6" height="4.4" rx="1.2" transform="translate(479.2,230.5) rotate(32)"/>
<rect x="-2.3" y="-2.2" width="4.6" height="4.4" rx="1.2" transform="translate(485.7,216.8) rotate(36)"/>
<rect x="-2.3" y="-2.2" width="4.6" height="4.4" rx="1.2" transform="translate(485.1,222.3) rotate(36)"/>
<rect x="-2.3" y="-2.2" width="4.6" height="4.4" rx="1.2" transform="translate(484.6,227.9) rotate(36)"/>
<rect x="-2.3" y="-2.2" width="4.6" height="4.4" rx="1.2" transform="translate(484.0,233.5) rotate(36)"/>
<rect x="-2.3" y="-2.2" width="4.6" height="4.4" rx="1.2" transform="translate(490.4,220.4) rotate(41)"/>
<rect x="-2.3" y="-2.2" width="4.6" height="4.4" rx="1.2" transform="translate(489.9,225.8) rotate(41)"/>
<rect x="-2.3" y="-2.2" width="4.6" height="4.4" rx="1.2" transform="translate(489.3,231.1) rotate(41)"/>
<rect x="-2.3" y="-2.2" width="4.6" height="4.4" rx="1.2" transform="translate(488.8,236.5) rotate(41)"/>
<rect x="-2.3" y="-2.2" width="4.6" height="4.4" rx="1.2" transform="translate(494.9,224.3) rotate(43)"/>
<rect x="-2.3" y="-2.2" width="4.6" height="4.4" rx="1.2" transform="translate(494.5,229.3) rotate(43)"/>
<rect x="-2.3" y="-2.2" width="4.6" height="4.4" rx="1.2" transform="translate(494.0,234.4) rotate(43)"/>
<rect x="-2.3" y="-2.2" width="4.6" height="4.4" rx="1.2" transform="translate(493.6,239.5) rotate(43)"/>
<rect x="-2.3" y="-2.2" width="4.6" height="4.4" rx="1.2" transform="translate(499.3,228.2) rotate(44)"/>
<rect x="-2.3" y="-2.2" width="4.6" height="4.4" rx="1.2" transform="translate(499.0,232.9) rotate(44)"/>
<rect x="-2.3" y="-2.2" width="4.6" height="4.4" rx="1.2" transform="translate(498.7,237.6) rotate(44)"/>
<rect x="-2.3" y="-2.2" width="4.6" height="4.4" rx="1.2" transform="translate(498.4,242.3) rotate(44)"/>
<rect x="-2.3" y="-2.2" width="4.6" height="4.4" rx="1.2" transform="translate(503.8,232.1) rotate(44)"/>
<rect x="-2.3" y="-2.2" width="4.6" height="4.4" rx="1.2" transform="translate(503.7,236.3) rotate(44)"/>
<rect x="-2.3" y="-2.2" width="4.6" height="4.4" rx="1.2" transform="translate(503.6,240.6) rotate(44)"/>
<rect x="-2.3" y="-2.2" width="4.6" height="4.4" rx="1.2" transform="translate(503.4,244.8) rotate(44)"/>
</g>

<path fill="none" stroke="#a43e04" stroke-width="1.6" d="M376.0,220.0 C380.3,218.8 392.4,214.3 402.0,213.0 C411.6,211.7 424.8,211.1 433.5,212.0 C442.2,212.9 447.1,215.3 454.0,218.5 C460.9,221.7 468.0,226.8 475.0,231.0 C482.0,235.2 490.8,240.7 496.0,243.5 C501.2,246.3 504.3,247.2 506.0,248.0"/>
<path fill="none" stroke="#6e3608" stroke-width="1.3" d="M370.0,198.0 C373.7,196.8 383.2,192.5 392.0,191.0 C400.8,189.5 414.3,188.7 423.0,189.0 C431.7,189.3 437.0,190.8 444.0,193.0 C451.0,195.2 458.0,198.5 465.0,202.0 C472.0,205.5 479.2,209.0 486.0,214.0 C492.8,219.0 502.7,229.0 506.0,232.0"/>
<!-- red profile line -->
<path fill="none" stroke="#f01216" stroke-width="6.2" stroke-linejoin="round" stroke-linecap="round" d="M124.0,156.5 C124.8,155.1 126.7,150.5 129.0,148.0 C131.3,145.5 134.5,143.0 138.0,141.5 C141.5,140.0 143.7,139.7 150.0,139.0 C156.3,138.3 167.3,137.5 176.0,137.6 C184.7,137.7 193.3,138.6 202.0,139.4 C210.7,140.2 219.3,141.2 228.0,142.5 C236.7,143.8 245.3,145.4 254.0,147.0 C262.7,148.6 271.3,150.2 280.0,152.0 C288.7,153.8 297.1,155.5 306.0,158.0 C314.9,160.5 326.3,164.0 333.5,166.8 C340.7,169.6 345.1,172.0 349.0,174.6 C352.9,177.2 354.3,179.4 357.0,182.5 C359.7,185.6 362.8,189.2 365.0,193.0 C367.2,196.8 368.8,200.5 370.0,205.0 C371.2,209.5 371.8,215.4 372.5,220.0 C373.2,224.6 372.9,228.8 374.0,232.5 C375.1,236.2 379.3,239.1 379.0,242.5 C378.7,245.9 374.7,249.6 372.0,253.0 C369.3,256.4 364.9,259.8 363.0,263.0 C361.1,266.2 361.0,270.5 360.6,272.0"/>

<!-- arrows -->
<line x1="541" y1="137" x2="380" y2="174.5" stroke="#000" stroke-width="6.3"/>
<path fill="#000" d="M362.5,178 L379,164 L383.5,183.5 Z"/>
<line x1="545" y1="184" x2="352" y2="209.3" stroke="#2fa6e6" stroke-width="6.9"/>
<path fill="#2fa6e6" d="M334.4,211.4 L354,198.5 L355,221 Z"/>
<line x1="547" y1="343" x2="443" y2="225.5" stroke="#0f8070" stroke-width="6.3"/>
<path fill="#0f8070" d="M433.5,214.7 L452,222 L437.5,234 Z"/>
<line x1="478.4" y1="240.4" x2="547" y2="271" stroke="#f6ee3a" stroke-width="6"/>
<circle cx="478.4" cy="240.4" r="10" fill="#f6ee3a"/>
<line x1="278.7" y1="281.8" x2="547" y2="288.6" stroke="#f6ee3a" stroke-width="6"/>
<circle cx="278.7" cy="281.8" r="10" fill="#f6ee3a"/>

<!-- label boxes -->
<rect x="544.5" y="116.5" width="211" height="51" fill="#858585"/>
<rect x="540.5" y="112.5" width="211" height="51" fill="#fff" stroke="#5c5c5c" stroke-width="1"/>
<rect x="548.5" y="182.5" width="203" height="51" fill="#858585"/>
<rect x="544.5" y="178.5" width="203" height="51" fill="#fff" stroke="#5c5c5c" stroke-width="1"/>
<rect x="550.5" y="251.5" width="206" height="61" fill="#858585"/>
<rect x="546.5" y="247.5" width="206" height="61" fill="#fff" stroke="#5c5c5c" stroke-width="1"/>
<rect x="550.5" y="326.5" width="204" height="51" fill="#858585"/>
<rect x="546.5" y="322.5" width="204" height="51" fill="#fff" stroke="#5c5c5c" stroke-width="1"/>
<text class="lbl" y="147"><tspan x="544.4" textLength="19.5" lengthAdjust="spacingAndGlyphs">①</tspan><tspan x="565" dy="1.3" style="font-size:26px" textLength="35" lengthAdjust="spacingAndGlyphs">CTT</tspan><tspan x="601" dy="-1.3" textLength="100" lengthAdjust="spacingAndGlyphs">プロファイル</tspan></text>
<text class="lbl" x="546.7" y="213.5" textLength="138" lengthAdjust="spacingAndGlyphs">②アラミドケース</text>
<text class="lbl" x="551" y="286.5" textLength="194" lengthAdjust="spacingAndGlyphs">③熱伝導率アップ配合</text>
<text class="lbl" x="550" y="356.5" textLength="153" lengthAdjust="spacingAndGlyphs">④ディンプルサイド</text>
</svg>
</body>
</html>
